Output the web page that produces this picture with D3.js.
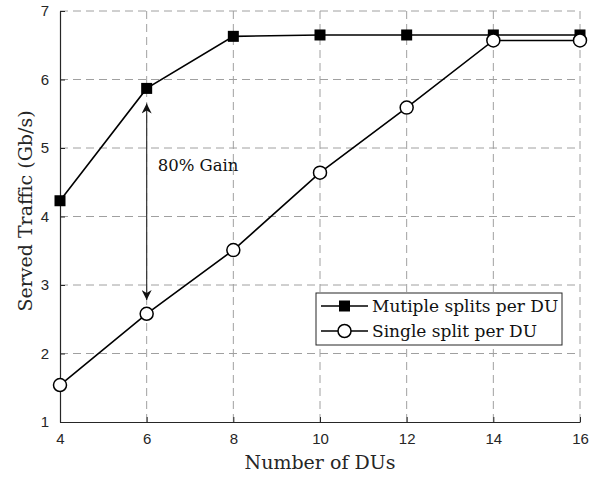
<!DOCTYPE html>
<html><head><meta charset="utf-8">
<script src="https://cdn.jsdelivr.net/npm/d3@7"></script>
<style>body{margin:0;background:#fff}</style>
</head><body><svg id="c" width="600" height="477"></svg>
<script>
const dus = [4, 6, 8, 10, 12, 14, 16];
const multiple = [4.23, 5.87, 6.63, 6.65, 6.65, 6.65, 6.65];
const single = [1.54, 2.58, 3.51, 4.64, 5.59, 6.57, 6.57];
const xTicks = [4, 6, 8, 10, 12, 14, 16];
const yTicks = [1, 2, 3, 4, 5, 6, 7];
const seriesNames = ["Mutiple splits per DU", "Single split per DU"];
const arrow = {x: 6, from: 2.78, to: 5.65, label: "80% Gain"};

const svg = d3.select("#c");
const x = d3.scaleLinear().domain([4, 16]).range([60, 580]);
const y = d3.scaleLinear().domain([1, 7]).range([422, 11]);
const serif = "'DejaVu Serif', 'Liberation Serif', serif";
const sans = "'Liberation Sans', Arial, sans-serif";

// grid
const g = svg.append("g");
g.selectAll(".gx").data(xTicks.slice(1)).join("line")
  .attr("x1", d => x(d)).attr("x2", d => x(d)).attr("y1", y(1)).attr("y2", y(7))
  .attr("stroke", "#a0a0a0").attr("stroke-width", 1).attr("stroke-dasharray", "8,5");
g.selectAll(".gy").data(yTicks.slice(1)).join("line")
  .attr("y1", d => y(d)).attr("y2", d => y(d)).attr("x1", x(4)).attr("x2", x(16))
  .attr("stroke", "#a0a0a0").attr("stroke-width", 1).attr("stroke-dasharray", "8,5");

// axes
const xa = svg.append("g").attr("transform", `translate(0,${y(1)})`)
  .call(d3.axisBottom(x).tickValues(xTicks).tickFormat(d3.format("d")).tickSizeInner(-5).tickSizeOuter(0).tickPadding(11));
const ya = svg.append("g").attr("transform", `translate(${x(4)},0)`)
  .call(d3.axisLeft(y).tickValues(yTicks).tickFormat(d3.format("d")).tickSizeInner(-5).tickSizeOuter(0).tickPadding(11));
[xa, ya].forEach(a => {
  a.select(".domain").attr("stroke", "#262626").attr("stroke-width", 1.2);
  a.selectAll(".tick line").attr("stroke", "#262626");
  a.selectAll("text").attr("font-family", sans).attr("font-size", 15).attr("fill", "#262626");
});

// lines
const line = d3.line().x((d, i) => x(dus[i])).y(d => y(d));
svg.append("path").datum(single).attr("d", line).attr("fill", "none").attr("stroke", "#000").attr("stroke-width", 1.6);
svg.append("path").datum(multiple).attr("d", line).attr("fill", "none").attr("stroke", "#000").attr("stroke-width", 1.6);
svg.selectAll(".sq").data(multiple).join("rect")
  .attr("x", (d, i) => x(dus[i]) - 5.5).attr("y", d => y(d) - 5.5)
  .attr("width", 11).attr("height", 11).attr("fill", "#000");
svg.selectAll(".ci").data(single).join("circle")
  .attr("cx", (d, i) => x(dus[i])).attr("cy", d => y(d)).attr("r", 6.5)
  .attr("fill", "#fff").attr("stroke", "#000").attr("stroke-width", 1.5);

// arrow
const defs = svg.append("defs");
defs.append("marker").attr("id", "ah").attr("viewBox", "0 0 10 10").attr("refX", 10).attr("refY", 5)
  .attr("markerWidth", 12).attr("markerHeight", 10).attr("markerUnits", "userSpaceOnUse").attr("orient", "auto-start-reverse")
  .append("path").attr("d", "M0,0 L10,5 L0,10 L3,5 Z").attr("fill", "#111");
svg.append("line").attr("x1", x(arrow.x)).attr("x2", x(arrow.x)).attr("y1", y(arrow.from)).attr("y2", y(arrow.to))
  .attr("stroke", "#333").attr("stroke-width", 1.2)
  .attr("marker-start", "url(#ah)").attr("marker-end", "url(#ah)");
svg.append("text").attr("x", x(arrow.x) + 11).attr("y", 171).text(arrow.label)
  .attr("font-family", serif).attr("font-size", 16.5).attr("fill", "#111");

// axis labels
svg.append("text").attr("x", x(10)).attr("y", 469).attr("text-anchor", "middle").text("Number of DUs")
  .attr("font-family", serif).attr("font-size", 19).attr("fill", "#262626");
svg.append("text").attr("transform", `translate(32,211) rotate(-90)`).attr("text-anchor", "middle")
  .text("Served Traffic (Gb/s)").attr("font-family", serif).attr("font-size", 19).attr("fill", "#262626");

// legend
const lg = svg.append("g");
lg.append("rect").attr("x", 316).attr("y", 293).attr("width", 246).attr("height", 52)
  .attr("fill", "#fff").attr("stroke", "#262626").attr("stroke-width", 1);
seriesNames.forEach((name, i) => {
  const yy = 306 + i * 25;
  lg.append("line").attr("x1", 321).attr("x2", 368).attr("y1", yy).attr("y2", yy).attr("stroke", "#000").attr("stroke-width", 1.6);
  if (i === 0) lg.append("rect").attr("x", 339).attr("y", yy - 5.5).attr("width", 11).attr("height", 11).attr("fill", "#000");
  else lg.append("circle").attr("cx", 344.5).attr("cy", yy).attr("r", 6.5).attr("fill", "#fff").attr("stroke", "#000").attr("stroke-width", 1.5);
  lg.append("text").attr("x", 372).attr("y", yy + 6).text(name)
    .attr("font-family", serif).attr("font-size", 17).attr("fill", "#111");
});
</script></body></html>
